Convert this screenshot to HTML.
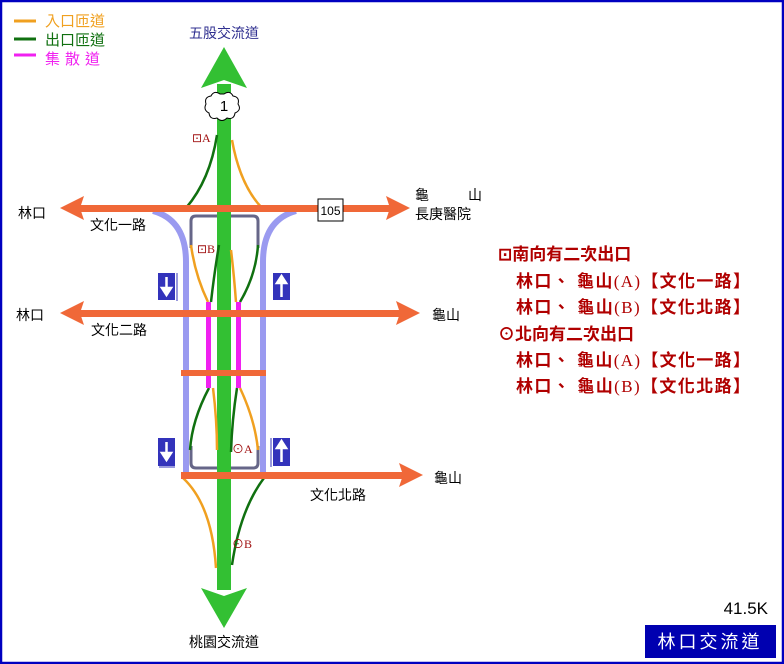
<!DOCTYPE html>
<html><head><meta charset="utf-8"><style>
html,body{margin:0;padding:0;background:#fff}
svg{display:block}
text{font-family:"Liberation Sans","Noto Sans CJK TC",sans-serif}
.r{fill:#b00000;font-size:17px;font-weight:bold}
.s{font-family:"Liberation Serif","Noto Sans CJK TC",serif;font-weight:normal}
</style></head><body>
<svg width="784" height="664" viewBox="0 0 784 664" xmlns="http://www.w3.org/2000/svg">
<rect x="1" y="1" width="782" height="662" fill="#fff" stroke="#0000c0" stroke-width="2.5"/>
<line x1="14" y1="21" x2="36" y2="21" stroke="#f0a020" stroke-width="3"/>
<line x1="14" y1="39" x2="36" y2="39" stroke="#107010" stroke-width="3"/>
<line x1="14" y1="55" x2="36" y2="55" stroke="#f020f0" stroke-width="3"/>
<text x="45" y="26" font-size="15" fill="#f0a020">入口匝道</text>
<text x="45" y="45" font-size="15" fill="#107010">出口匝道</text>
<text x="45" y="64" font-size="15" fill="#f020f0" letter-spacing="5">集散道</text>
<text x="224" y="38" font-size="14" fill="#303090" text-anchor="middle">五股交流道</text>
<text x="224" y="647" font-size="14" fill="#000" text-anchor="middle">桃園交流道</text>

<g stroke="#9a9af0" stroke-width="6" fill="none">
<path d="M153 211 Q186 220 186 262 L186 474"/>
<path d="M296 211 Q263 220 263 262 L263 474"/>
</g>
<g stroke="#666688" stroke-width="3" fill="none">
<path d="M191 248 L191 221 Q191 216 196 216 L253 216 Q258 216 258 221 L258 248"/>
<path d="M191 446 L191 463 Q191 468 196 468 L253 468 Q258 468 258 463 L258 446"/>
</g>
<rect x="217" y="84" width="14" height="506" fill="#33c033"/>
<polygon points="224,47 247,88 224,80 201,88" fill="#33c033"/>
<polygon points="224,628 247,588 224,596 201,588" fill="#33c033"/>
<g fill="none" stroke-width="2.5">
<path d="M217 135 Q210 180 186 208" stroke="#107010"/>
<path d="M232 140 Q240 185 262 208" stroke="#f0a020"/>
<path d="M191 245 Q195 275 208 302" stroke="#f0a020"/>
<path d="M219 245 Q214 275 211 302" stroke="#107010"/>
<path d="M231 250 Q234 275 236 302" stroke="#f0a020"/>
<path d="M258 245 Q256 275 240 302" stroke="#107010"/>
<path d="M209 388 Q192 420 190 450" stroke="#107010"/>
<path d="M213 388 Q217 420 217 450" stroke="#f0a020"/>
<path d="M237 388 Q232 420 231 452" stroke="#107010"/>
<path d="M240 388 Q255 420 258 450" stroke="#f0a020"/>
<path d="M183 478 Q212 505 216 568" stroke="#f0a020"/>
<path d="M264 478 Q240 510 232 565" stroke="#107010"/>
</g>
<rect x="206" y="302" width="5" height="86" fill="#f020f0"/>
<rect x="236" y="302" width="5" height="86" fill="#f020f0"/>
<g fill="#f06838">
<rect x="78" y="205" width="315" height="7"/>
<polygon points="60,208 84,196 80,208 84,220"/>
<polygon points="410,208 386,196 390,208 386,220"/>
<rect x="78" y="310" width="325" height="7"/>
<polygon points="60,313 84,301 80,313 84,325"/>
<polygon points="420,313 396,301 400,313 396,325"/>
<rect x="181" y="370" width="85" height="6"/>
<rect x="181" y="472" width="225" height="7"/>
<polygon points="423,475 399,463 403,475 399,487"/>
</g>
<path d="M224 94 q6 -4 9 2 q7 1 5 8 q4 6 -3 9 q-1 7 -8 5 q-5 5 -10 0 q-7 2 -8 -5 q-6 -3 -3 -9 q-2 -7 5 -8 q3 -6 9 -2z" fill="#fff" stroke="#000" stroke-width="1"/>
<text x="224" y="111" font-size="15" text-anchor="middle" fill="#000">1</text>
<rect x="318" y="199" width="25" height="22" fill="#fff" stroke="#000"/>
<text x="330.5" y="215" font-size="12" text-anchor="middle">105</text>
<g>
<rect x="158" y="273" width="17" height="27" fill="#3333bb"/><line x1="177" y1="273" x2="177" y2="301" stroke="#3333bb"/>
<path d="M166.5 277 v16 M162 288 l4.5 7 l4.5 -7z" stroke="#fff" stroke-width="2.5" fill="#fff"/>
<rect x="273" y="273" width="17" height="27" fill="#3333bb"/>
<path d="M281.5 297 v-16 M277 283 l4.5 -7 l4.5 7z" stroke="#fff" stroke-width="2.5" fill="#fff"/>
<rect x="158" y="438" width="17" height="28" fill="#3333bb"/><line x1="159" y1="467" x2="175" y2="467" stroke="#3333bb"/>
<path d="M166.5 442 v16 M162 453 l4.5 7 l4.5 -7z" stroke="#fff" stroke-width="2.5" fill="#fff"/>
<rect x="273" y="438" width="17" height="28" fill="#3333bb"/><line x1="271" y1="438" x2="271" y2="467" stroke="#3333bb"/>
<path d="M281.5 462 v-16 M277 448 l4.5 -7 l4.5 7z" stroke="#fff" stroke-width="2.5" fill="#fff"/>
</g>
<g font-size="12" fill="#a01010">
<text x="192" y="142" class="s" font-weight="bold">⊡A</text>
<text x="197" y="253" class="s" font-weight="bold">⊡B</text>
<text x="232" y="453" class="s">⊙A</text>
<text x="232" y="548" class="s">⊙B</text>
</g>
<g font-size="14" fill="#000">
<text x="18" y="218">林口</text>
<text x="90" y="230">文化一路</text>
<text x="415" y="200">龜</text><text x="468" y="200">山</text>
<text x="415" y="219">長庚醫院</text>
<text x="16" y="320">林口</text>
<text x="91" y="335">文化二路</text>
<text x="432" y="320">龜山</text>
<text x="434" y="483">龜山</text>
<text x="310" y="500">文化北路</text>
</g>
<g class="r">
<text x="498" y="260">⊡南向有二次出口</text>
<text x="516" y="287" textLength="234" lengthAdjust="spacing">林口、 龜山<tspan class="s">(A)</tspan>【文化一路】</text>
<text x="516" y="313" textLength="234" lengthAdjust="spacing">林口、 龜山<tspan class="s">(B)</tspan>【文化北路】</text>
<text x="498" y="340">⊙北向有二次出口</text>
<text x="516" y="366" textLength="234" lengthAdjust="spacing">林口、 龜山<tspan class="s">(A)</tspan>【文化一路】</text>
<text x="516" y="392" textLength="234" lengthAdjust="spacing">林口、 龜山<tspan class="s">(B)</tspan>【文化北路】</text>
</g>
<text x="768" y="614" font-size="17" text-anchor="end">41.5K</text>
<rect x="645" y="625" width="131" height="33" fill="#0000b0"/>
<text x="710" y="648" font-size="18" fill="#fff" text-anchor="middle" letter-spacing="3">林口交流道</text>
</svg>
</body></html>
